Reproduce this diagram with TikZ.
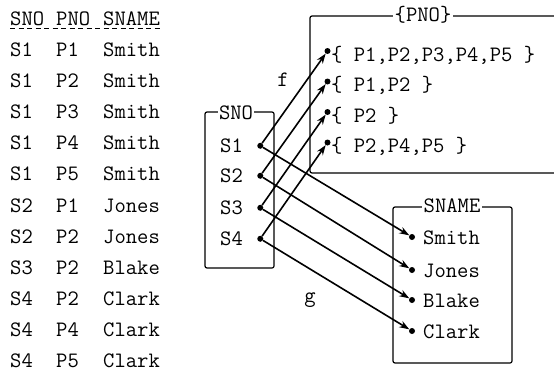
\documentclass[tikz,border=0pt]{standalone}
\usetikzlibrary{arrows.meta,positioning}

\tikzset{
  txt/.style={font=\ttfamily\fontsize{22}{22}\selectfont, inner sep=0pt, anchor=base west},
  dot/.style={circle, fill, inner sep=0pt, minimum size=6pt},
  box/.style={line width=1.2pt, rounded corners=2pt},
  boxlabel/.style={font=\ttfamily\fontsize{22}{22}\selectfont, fill=white, inner sep=1.5pt},
  map/.style={line width=1.6pt, -{Stealth[length=10pt,width=7pt]}},
}

\begin{document}
\begin{tikzpicture}[x=1pt, y=-1pt]
    \useasboundingbox (0,0) rectangle (554,372);
    % the relation
    \node [txt] (hsno)   at (10, 25)  {SNO};
    \node [txt] (hpno)   at (56, 25)  {PNO};
    \node [txt] (hsname) at (103, 25) {SNAME};
    \draw [line width=0.9pt, dash pattern=on 5pt off 3.5pt]
        ([yshift=-3pt]hsno.base west) -- ([yshift=-3pt]hsname.base east);
    \foreach \sno/\pno/\sname [count=\i] in {S1/P1/Smith, S1/P2/Smith, S1/P3/Smith,
            S1/P4/Smith, S1/P5/Smith, S2/P1/Jones, S2/P2/Jones, S3/P2/Blake,
            S4/P2/Clark, S4/P4/Clark, S4/P5/Clark} {
        \node [txt] (r\i sno)   at (10, {56.5+31.1*(\i-1)})  {\sno};
        \node [txt] (r\i pno)   at (56, {56.5+31.1*(\i-1)})  {\pno};
        \node [txt] (r\i sname) at (103, {56.5+31.1*(\i-1)}) {\sname};
        }
    % domain SNO
    \draw [box] (205, 112) rectangle (274, 268);
    \node [boxlabel] (snolab) at (236, 113) {SNO};
    \foreach \y [count=\i] in {152.5, 182.5, 214.5, 245.5} {
        \node [txt] (s\i) at (220, \y) {S\i};
        \node [dot, right=14pt of s\i] (s\i d) {};
        }
    % range of f
    \draw [box] (556, 16) -- (310, 16) -- (310, 173) -- (556, 173);
    \node [boxlabel] (pnolab) at (423, 15) {\{PNO\}};
    \foreach \set [count=\i] in {{P1,P2,P3,P4,P5}, {P1,P2}, {P2}, {P2,P4,P5}} {
        \node [txt] (p\i) at (331, {61+30.5*(\i-1)}) {\{ \set\ \}};
        \node [dot] (p\i d) at ([shift={(-3.5pt,10pt)}]p\i.base west) {};
        }
    % range of g
    \draw [box] (393, 207) rectangle (512, 363);
    \node [boxlabel] (snamelab) at (452, 206) {SNAME};
    \foreach \name/\y [count=\i] in {Smith/244.5, Jones/277.5, Blake/307.5, Clark/338.5} {
        \node [txt] (n\i) at (423, \y) {\name};
        \node [dot] (n\i d) at ([shift={(-11pt,7.5pt)}]n\i.base west) {};
        }
    % the two maps
    \foreach \i in {1,...,4} {
        \draw [map] (s\i d) -- (p\i d);
        \draw [map] (s\i d) -- (n\i d);
        }
    \node [font=\ttfamily\fontsize{22}{22}\selectfont] (flab) at (283, 80)  {f};
    \node [font=\ttfamily\fontsize{22}{22}\selectfont] (glab) at (310, 300) {g};
\end{tikzpicture}
\end{document}
